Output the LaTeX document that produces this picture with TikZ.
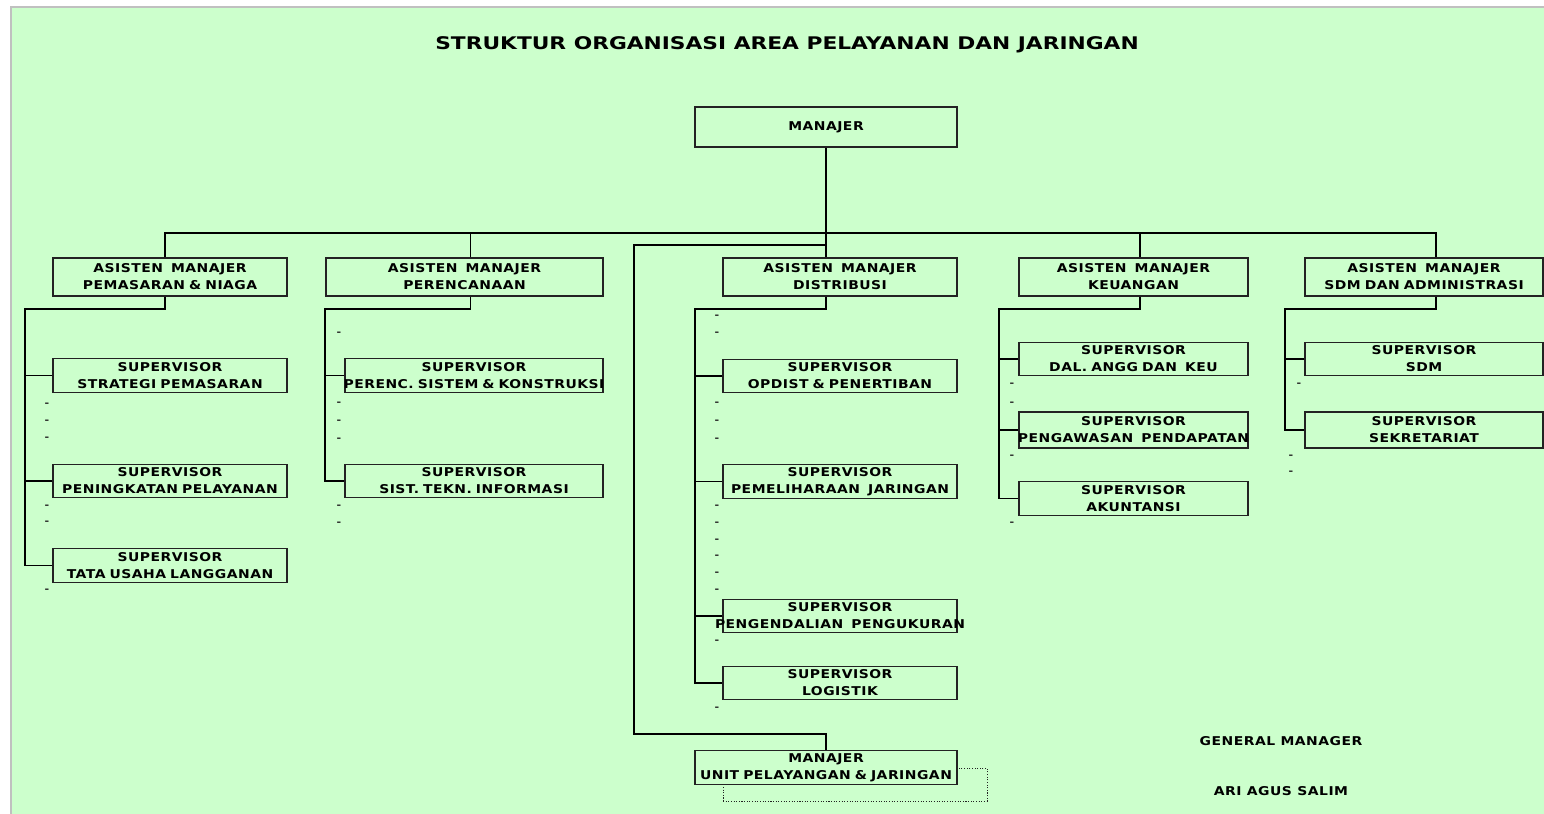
\documentclass[tikz,border=0pt]{standalone}
\usepackage{fontspec}
\setmainfont{DejaVu Sans}
\newfontfamily\chartfont{DejaVu Sans}[FakeStretch=1.15,LetterSpace=4]
\newfontfamily\titlefont{DejaVu Sans}[FakeStretch=1.25]
\usepackage{tikz}
\usetikzlibrary{positioning}
\definecolor{chartbg}{HTML}{CCFFCC}
\definecolor{edgegray}{HTML}{C0C0C0}
\definecolor{boxline}{HTML}{222222}

\begin{document}
\begin{tikzpicture}[x=0.02cm,y=-0.02cm,thick,
        main node/.style={rectangle,draw=boxline,line width=0.75pt,fill=chartbg,inner sep=0pt,
            align=center,font=\chartfont\bfseries\fontsize{6.9}{9.6}\selectfont},
        am/.style={main node,text width=#1,minimum height=0.76cm},
        sv/.style={main node,text width=#1,minimum height=0.67cm},
        link/.style={line width=1.1pt,black},
        dashmark/.style={inner sep=0pt,text=black!85,font=\chartfont\bfseries\fontsize{5.5}{7}\selectfont},
        plain text/.style={inner sep=0pt,font=\chartfont\bfseries\fontsize{6.9}{8}\selectfont}]

    \useasboundingbox (0,0) rectangle (1544,814);
    \fill[chartbg] (11,7) rectangle (1544,814);
    \draw[edgegray,line width=0.6pt] (11,814) -- (11,7) -- (1544,7);

    \node[inner sep=0pt,font=\titlefont\bfseries\fontsize{9.9}{12}\selectfont] (title) at (787,45)
        {STRUKTUR ORGANISASI AREA PELAYANAN DAN JARINGAN};

    % top
    \node[main node,text width=5.24cm,minimum height=0.8cm,line width=1.1pt] (m) at (826,127) {MANAJER};

    % asisten manajer
    \node[am=4.68cm] (a1) at (170,277) {ASISTEN~~MANAJER\\PEMASARAN~\&~NIAGA};
    \node[am=5.54cm] (a2) at (464.5,277) {ASISTEN~~MANAJER\\PERENCANAAN};
    \node[am=4.68cm] (a3) at (840,277) {ASISTEN~~MANAJER\\DISTRIBUSI};
    \node[am=4.58cm] (a4) at (1133.5,277) {ASISTEN~~MANAJER\\KEUANGAN};
    \node[am=4.76cm] (a5) at (1424,277) {ASISTEN~~MANAJER\\\makebox[0pt]{SDM DAN ADMINISTRASI}};

    % supervisor
    \node[sv=4.68cm] (s11) at (170,375.5) {SUPERVISOR\\STRATEGI~PEMASARAN};
    \node[sv=4.68cm] (s12) at (170,481) {SUPERVISOR\\\makebox[0pt]{PENINGKATAN PELAYANAN}};
    \node[sv=4.68cm] (s13) at (170,565.5) {SUPERVISOR\\\makebox[0pt]{TATA USAHA LANGGANAN}};

    \node[sv=5.16cm] (s21) at (474,375.5) {SUPERVISOR\\\makebox[0pt]{PERENC.\ SISTEM \& KONSTRUKSI}};
    \node[sv=5.16cm] (s22) at (474,481) {SUPERVISOR\\SIST.~TEKN.~INFORMASI};

    \node[sv=4.68cm] (s31) at (840,376) {SUPERVISOR\\OPDIST~\&~PENERTIBAN};
    \node[sv=4.68cm] (s32) at (840,481.5) {SUPERVISOR\\\makebox[0pt]{PEMELIHARAAN\ \ JARINGAN}};
    \node[sv=4.68cm] (s33) at (840,616) {SUPERVISOR\\\makebox[0pt]{PENGENDALIAN\ \ PENGUKURAN}};
    \node[sv=4.68cm] (s34) at (840,683) {SUPERVISOR\\LOGISTIK};

    \node[sv=4.58cm] (s41) at (1133.5,359) {SUPERVISOR\\DAL.~ANGG~DAN~~KEU};
    \node[sv=4.58cm,minimum height=0.72cm] (s42) at (1133.5,430) {SUPERVISOR\\\makebox[0pt]{PENGAWASAN\ \ PENDAPATAN}};
    \node[sv=4.58cm] (s43) at (1133.5,498.5) {SUPERVISOR\\AKUNTANSI};

    \node[sv=4.76cm] (s51) at (1424,359) {SUPERVISOR\\SDM};
    \node[sv=4.76cm,minimum height=0.72cm] (s52) at (1424,430) {SUPERVISOR\\SEKRETARIAT};

    % manajer unit
    \node[draw=boxline,line width=0.5pt,dash pattern=on 0.6pt off 0.9pt,minimum width=5.28cm,
        minimum height=0.66cm,inner sep=0pt] (ushadow) at (855,784.5) {};
    \node[sv=5.24cm] (u) at (826,767.5) {MANAJER\\\makebox[0pt]{UNIT PELAYANGAN \& JARINGAN}};

    \node[plain text] (gm) at (1281,741) {GENERAL MANAGER};
    \node[plain text] (gmname) at (1281,791) {ARI AGUS SALIM};

    % lines
    \coordinate (bus) at (826,233);
    \coordinate (uj) at (826,245);
    \coordinate (ubend) at (634,734);
    \draw[link] (m.south) -- (a3.north -| m.south);
    \draw[link] ([xshift=-0.1cm]a1.north) |- (bus) -| ([xshift=0.24cm]a5.north);
    \draw[link] ([xshift=0.12cm]a2.north) -- ([xshift=0.12cm]a2.north |- bus);
    \draw[link] ([xshift=0.13cm]a4.north) -- ([xshift=0.13cm]a4.north |- bus);
    \draw[link] (uj) -| (ubend) -| (u.north);

    \coordinate (sp1) at (25,309);
    \coordinate (sp2) at (325,309);
    \coordinate (sp3) at (695,309);
    \coordinate (sp4) at (999,309);
    \coordinate (sp5) at (1285,309);

    \draw[link] ([xshift=-0.1cm]a1.south) |- (sp1) |- (s13.west);
    \draw[link] (s11.west) -- (s11.west -| sp1);
    \draw[link] (s12.west) -- (s12.west -| sp1);

    \draw[link] ([xshift=0.12cm]a2.south) |- (sp2) |- (s22.west);
    \draw[link] (s21.west) -- (s21.west -| sp2);

    \draw[link] ([xshift=-0.28cm]a3.south) |- (sp3) |- (s34.west);
    \draw[link] (s31.west) -- (s31.west -| sp3);
    \draw[link] (s32.west) -- (s32.west -| sp3);
    \draw[link] (s33.west) -- (s33.west -| sp3);

    \draw[link] ([xshift=0.13cm]a4.south) |- (sp4) |- (s43.west);
    \draw[link] (s41.west) -- (s41.west -| sp4);
    \draw[link] (s42.west) -- (s42.west -| sp4);

    \draw[link] ([xshift=0.24cm]a5.south) |- (sp5) |- (s52.west);
    \draw[link] (s51.west) -- (s51.west -| sp5);

    % little dashes
    \foreach \y in {405,422,439,507,523,591}
        \node[dashmark] (d1-\y) at (47,\y) {-};
    \foreach \y in {334,404,422,440,507,524}
        \node[dashmark] (d2-\y) at (339,\y) {-};
    \foreach \y in {317,334,404,422,440,507,524,541,557,574,591,642,709}
        \node[dashmark] (d3-\y) at (717,\y) {-};
    \foreach \y in {385,404,457,524}
        \node[dashmark] (d4-\y) at (1012,\y) {-};
    \node[dashmark] (d5-385) at (1299,385) {-};
    \foreach \y in {457,473}
        \node[dashmark] (d5-\y) at (1291,\y) {-};

\end{tikzpicture}
\end{document}
